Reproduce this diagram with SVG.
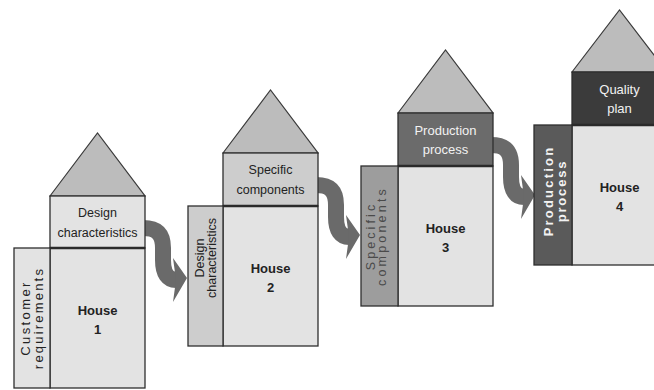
<svg xmlns="http://www.w3.org/2000/svg" xmlns:xlink="http://www.w3.org/1999/xlink" width="654" height="390" viewBox="0 0 654 390">
<style>
.roof{fill:#bcbcbc;stroke:#3a3a3a;stroke-width:1.2}
.box{stroke:#2e2e2e;stroke-width:1.3}
.div{stroke:#2a2a2a;stroke-width:2.4}
.light{fill:#e3e3e3}
.mid{fill:#cdcdcd}
.t{font-family:"Liberation Sans",Arial,sans-serif;font-size:12.5px;fill:#222;text-anchor:middle}
.w{fill:#f2f2f2;font-size:13px}
.h{font-weight:bold;font-size:13px}
.band{fill:none;stroke:#6a6a6a;stroke-width:16}
.head{fill:#6a6a6a}
</style>
<defs>
<g id="arrow">
<path class="band" d="M-2,32 C12,32 18,38 18,52 L18,64 C18,78 23,84 31,84"/>
<polygon class="head" points="28,62 42,82 28,106 31,84"/>
</g>
</defs>
<rect width="654" height="390" fill="#ffffff"/>
<g id="connectors">
<use xlink:href="#arrow" transform="translate(145,196)"/>
<use xlink:href="#arrow" transform="translate(318,153)"/>
<use xlink:href="#arrow" transform="translate(493,113)"/>
</g>
<g id="house1">
<polygon class="roof" points="50,196 97.5,133 145,196"/>
<rect class="box light" x="50" y="196" width="95" height="52"/>
<rect class="box light" x="50" y="248" width="95" height="140"/>
<rect class="box light" x="14" y="248" width="36" height="140"/>
<line class="div" x1="50" y1="248" x2="145" y2="248"/>
<text class="t" x="97.5" y="217">Design</text>
<text class="t" x="97.5" y="237">characteristics</text>
<text class="t h" x="97.5" y="315">House</text>
<text class="t h" x="97.5" y="334">1</text>
<text class="t" style="font-size:13px;letter-spacing:2.4px" transform="translate(30,318) rotate(-90)">Customer</text>
<text class="t" style="font-size:13px;letter-spacing:2.2px" transform="translate(43,318) rotate(-90)">requirements</text>
</g>
<g id="house2">
<polygon class="roof" points="223,153 270.5,90 318,153"/>
<rect class="box mid" x="223" y="153" width="95" height="53"/>
<rect class="box light" x="223" y="206" width="95" height="140"/>
<rect class="box mid" x="188" y="206" width="35" height="140"/>
<line class="div" x1="223" y1="206" x2="318" y2="206"/>
<text class="t" x="270.5" y="174">Specific</text>
<text class="t" x="270.5" y="194">components</text>
<text class="t h" x="270.5" y="273">House</text>
<text class="t h" x="270.5" y="292">2</text>
<text class="t" transform="translate(204,258) rotate(-90)">Design</text>
<text class="t" transform="translate(216,258) rotate(-90)">characteristics</text>
</g>
<g id="house3">
<polygon class="roof" points="398,113 445.5,50 493,113"/>
<rect class="box" fill="#6b6b6b" x="398" y="113" width="95" height="53"/>
<rect class="box light" x="398" y="166" width="95" height="140"/>
<rect class="box" fill="#9d9d9d" x="361" y="166" width="37" height="140"/>
<line class="div" x1="398" y1="166" x2="493" y2="166"/>
<text class="t w" x="445.5" y="135">Production</text>
<text class="t w" x="445.5" y="154">process</text>
<text class="t h" x="445.5" y="233">House</text>
<text class="t h" x="445.5" y="252">3</text>
<text class="t" style="fill:#4a4a4a;letter-spacing:3.1px" transform="translate(375,236) rotate(-90)">Specific</text>
<text class="t" style="fill:#4a4a4a;letter-spacing:3.2px" transform="translate(386,236) rotate(-90)">components</text>
</g>
<g id="house4">
<polygon class="roof" points="572,72 619.5,10 667,72"/>
<rect class="box" fill="#3b3b3b" x="572" y="72" width="95" height="53"/>
<rect class="box light" x="572" y="125" width="95" height="140"/>
<rect class="box" fill="#5a5a5a" x="534" y="125" width="38" height="140"/>
<line class="div" x1="572" y1="125" x2="667" y2="125"/>
<text class="t w" x="619.5" y="94">Quality</text>
<text class="t w" x="619.5" y="113">plan</text>
<text class="t h" x="619.5" y="192">House</text>
<text class="t h" x="619.5" y="211">4</text>
<text class="t w" style="font-weight:bold;letter-spacing:2.2px" transform="translate(553,191) rotate(-90)">Production</text>
<text class="t w" style="font-weight:bold;letter-spacing:1.8px" transform="translate(566,191) rotate(-90)">process</text>
</g>
</svg>
